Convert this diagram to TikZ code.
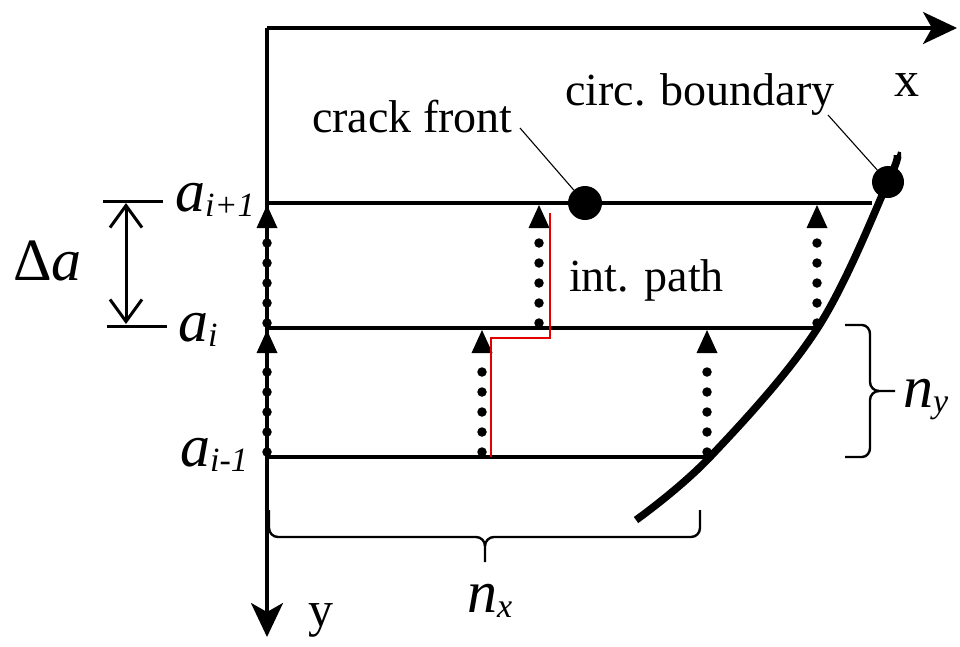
\documentclass[tikz,border=0pt]{standalone}
\usepackage{fontspec}
\setmainfont{Liberation Serif}
\usetikzlibrary{arrows.meta}
\newcommand\lsub[1]{\raisebox{-5pt}{\fontsize{34}{34}\selectfont #1}}
\begin{document}
\begin{tikzpicture}[x=1pt,y=-1pt,
  axis/.style={line width=3.2pt,-{Stealth[length=34pt,width=32pt,inset=9pt]}},
  gridline/.style={line width=3.4pt},
  dotcol/.style={line width=9.5pt,line cap=round,dash pattern=on 0pt off 20pt},
  lbl/.style={font=\fontsize{46}{50}\selectfont,inner sep=0pt},
  axlbl/.style={font=\fontsize{50}{54}\selectfont,inner sep=0pt},
  mlbl/.style={font=\fontsize{60}{60}\selectfont\itshape,inner sep=0pt},
  leader/.style={line width=1.1pt},
  dot/.style={circle,fill=black,inner sep=0pt,minimum size=34pt},
  bracestyle/.style={line width=2.4pt,line join=round},
  dim/.style={line width=3pt,{Straight Barb[length=22pt,width=32pt]}-{Straight Barb[length=22pt,width=32pt]}},
]
\useasboundingbox (0,0) rectangle (960,646);
% axes
\coordinate (O) at (267,28);
\coordinate (X) at (957,28);
\coordinate (Y) at (267,637);
\draw[axis] (O) -- (X);
\draw[axis] (O) -- (Y);
\node[axlbl,anchor=base west] (xl) at (894,96) {x};
\node[axlbl,anchor=base west] (yl) at (308,626) {y};
% grid lines
\coordinate (t0) at (267,203); \coordinate (t1) at (872,203);
\coordinate (m0) at (267,328); \coordinate (m1) at (816,328);
\coordinate (b0) at (267,457); \coordinate (b1) at (710,457);
\draw[gridline] (t0) -- (t1);
\draw[gridline] (m0) -- (m1);
\draw[gridline] (b0) -- (b1);
% dotted arrows
\foreach \cx/\yb/\yt in {267/457/328, 267/328/203, 482/457/328, 539/328/203, 707/457/328, 817/328/203}{
  \draw[dotcol] (\cx,\yb-5) -- (\cx,\yt+24);
  \fill (\cx-10.5,\yt+25) -- (\cx+10.5,\yt+25) -- (\cx,\yt+2) -- cycle;
}
% integration path
\draw[red!90!black,line width=2.6pt] (491,457) -- (491,338) -- (550,338) -- (550,213);
% circular boundary
\draw[line width=7.5pt] plot[smooth,tension=0.6] coordinates {(636,520) (710,457) (817,329) (888,182) (897,155)};
% dots
\node[dot] (cfdot) at (585,203) {};
\node[dot,minimum size=32pt] (cbdot) at (888,182) {};
% labels
\node[lbl,anchor=base west] (cf) at (312,132) {crack front};
\node[lbl,anchor=base west] (cb) at (565,105) {circ. boundary};
\node[lbl,anchor=base west] (ip) at (569,291) {int. path};
\coordinate (cfl) at (520,128);
\coordinate (cbl) at (828,115);
\draw[leader] (cfl) -- (cfdot);
\draw[leader] (cbl) -- (cbdot);
% a labels
\node[mlbl,anchor=base west] (a1) at (175,211) {a\lsub{i+1}};
\node[mlbl,anchor=base west] (a0) at (178,341) {a\lsub{i}};
\node[mlbl,anchor=base west] (am) at (180,466) {a\lsub{i-1}};
% delta a
\draw[line width=3pt] (103,201) -- (163,201);
\draw[line width=3pt] (107,326) -- (167,326);
\coordinate (d0) at (126,203);
\coordinate (d1) at (126,324);
\draw[dim] (d0) -- (d1);
\node[mlbl,anchor=base west] (da) at (13,280) {{\upshape Δ}a};
% brace n_y
\coordinate (nyt) at (895,391);
\draw[bracestyle] (845,325) -- (862,325) to[out=0,in=90] (870,334) -- (870,382)
   to[out=-90,in=180] (879,391) -- (nyt);
\draw[bracestyle] (879,391) to[out=180,in=90] (870,400) -- (870,448)
   to[out=-90,in=0] (862,457) -- (845,457);
\node[mlbl,anchor=base west] (ny) at (903,407) {n\lsub{y}};
% brace n_x
\coordinate (nxt) at (485,562);
\draw[bracestyle] (269,510) -- (269,528) to[out=-90,in=180] (278,537) -- (476,537)
   to[out=0,in=90] (485,546) -- (nxt);
\draw[bracestyle] (485,546) to[out=90,in=180] (494,537) -- (691,537)
   to[out=0,in=-90] (700,528) -- (700,510);
\node[mlbl,anchor=base west] (nx) at (467,612) {n\lsub{x}};
\end{tikzpicture}
\end{document}
